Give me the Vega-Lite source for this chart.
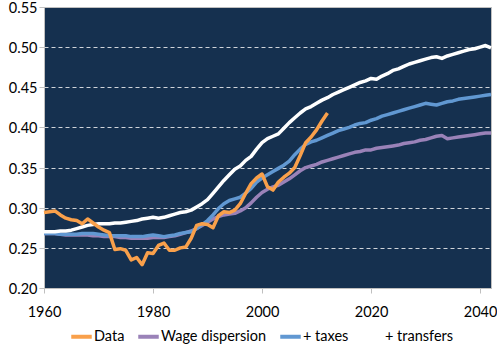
{
  "$schema": "https://vega.github.io/schema/vega-lite/v6.json",
  "width": 447,
  "height": 281,
  "autosize": {"type": "none"},
  "padding": {"left": 44, "top": 7, "right": 6, "bottom": 62},
  "background": "white",
  "config": {
    "font": "Lato",
    "view": {"fill": "#15304f", "stroke": "#bfbfbf", "strokeWidth": 1},
    "axis": {"labelFont": "Lato", "labelFontSize": 14.5, "labelColor": "#000000", "domainColor": "#bfbfbf", "tickColor": "#bfbfbf", "tickSize": 5, "title": null}
  },
  "datasets": {
    "obs": [
      {"year":1960,"series":"Data","value":0.294},{"year":1961,"series":"Data","value":0.295},{"year":1962,"series":"Data","value":0.296},{"year":1963,"series":"Data","value":0.291},{"year":1964,"series":"Data","value":0.287},{"year":1965,"series":"Data","value":0.285},{"year":1966,"series":"Data","value":0.284},{"year":1967,"series":"Data","value":0.280},{"year":1968,"series":"Data","value":0.286},{"year":1969,"series":"Data","value":0.281},{"year":1970,"series":"Data","value":0.276},{"year":1971,"series":"Data","value":0.272},{"year":1972,"series":"Data","value":0.269},{"year":1973,"series":"Data","value":0.248},{"year":1974,"series":"Data","value":0.249},{"year":1975,"series":"Data","value":0.247},{"year":1976,"series":"Data","value":0.235},{"year":1977,"series":"Data","value":0.238},{"year":1978,"series":"Data","value":0.229},{"year":1979,"series":"Data","value":0.244},{"year":1980,"series":"Data","value":0.243},{"year":1981,"series":"Data","value":0.253},{"year":1982,"series":"Data","value":0.256},{"year":1983,"series":"Data","value":0.247},{"year":1984,"series":"Data","value":0.247},{"year":1985,"series":"Data","value":0.250},{"year":1986,"series":"Data","value":0.251},{"year":1987,"series":"Data","value":0.262},{"year":1988,"series":"Data","value":0.278},{"year":1989,"series":"Data","value":0.280},{"year":1990,"series":"Data","value":0.279},{"year":1991,"series":"Data","value":0.275},{"year":1992,"series":"Data","value":0.290},{"year":1993,"series":"Data","value":0.295},{"year":1994,"series":"Data","value":0.294},{"year":1995,"series":"Data","value":0.297},{"year":1996,"series":"Data","value":0.305},{"year":1997,"series":"Data","value":0.318},{"year":1998,"series":"Data","value":0.330},{"year":1999,"series":"Data","value":0.337},{"year":2000,"series":"Data","value":0.342},{"year":2001,"series":"Data","value":0.326},{"year":2002,"series":"Data","value":0.322},{"year":2003,"series":"Data","value":0.332},{"year":2004,"series":"Data","value":0.338},{"year":2005,"series":"Data","value":0.343},{"year":2006,"series":"Data","value":0.350},{"year":2007,"series":"Data","value":0.365},{"year":2008,"series":"Data","value":0.381},{"year":2009,"series":"Data","value":0.388},{"year":2010,"series":"Data","value":0.397},{"year":2011,"series":"Data","value":0.408},{"year":2012,"series":"Data","value":0.418}
    ],
    "model": [
      {"year":1960,"series":"Wage dispersion","value":0.268},{"year":1961,"series":"Wage dispersion","value":0.268},{"year":1962,"series":"Wage dispersion","value":0.268},{"year":1963,"series":"Wage dispersion","value":0.267},{"year":1964,"series":"Wage dispersion","value":0.266},{"year":1965,"series":"Wage dispersion","value":0.266},{"year":1966,"series":"Wage dispersion","value":0.266},{"year":1967,"series":"Wage dispersion","value":0.266},{"year":1968,"series":"Wage dispersion","value":0.266},{"year":1969,"series":"Wage dispersion","value":0.265},{"year":1970,"series":"Wage dispersion","value":0.265},{"year":1971,"series":"Wage dispersion","value":0.264},{"year":1972,"series":"Wage dispersion","value":0.264},{"year":1973,"series":"Wage dispersion","value":0.264},{"year":1974,"series":"Wage dispersion","value":0.263},{"year":1975,"series":"Wage dispersion","value":0.263},{"year":1976,"series":"Wage dispersion","value":0.262},{"year":1977,"series":"Wage dispersion","value":0.262},{"year":1978,"series":"Wage dispersion","value":0.262},{"year":1979,"series":"Wage dispersion","value":0.262},{"year":1980,"series":"Wage dispersion","value":0.263},{"year":1981,"series":"Wage dispersion","value":0.263},{"year":1982,"series":"Wage dispersion","value":0.263},{"year":1983,"series":"Wage dispersion","value":0.264},{"year":1984,"series":"Wage dispersion","value":0.265},{"year":1985,"series":"Wage dispersion","value":0.267},{"year":1986,"series":"Wage dispersion","value":0.269},{"year":1987,"series":"Wage dispersion","value":0.271},{"year":1988,"series":"Wage dispersion","value":0.274},{"year":1989,"series":"Wage dispersion","value":0.278},{"year":1990,"series":"Wage dispersion","value":0.282},{"year":1991,"series":"Wage dispersion","value":0.286},{"year":1992,"series":"Wage dispersion","value":0.289},{"year":1993,"series":"Wage dispersion","value":0.291},{"year":1994,"series":"Wage dispersion","value":0.292},{"year":1995,"series":"Wage dispersion","value":0.293},{"year":1996,"series":"Wage dispersion","value":0.296},{"year":1997,"series":"Wage dispersion","value":0.300},{"year":1998,"series":"Wage dispersion","value":0.306},{"year":1999,"series":"Wage dispersion","value":0.313},{"year":2000,"series":"Wage dispersion","value":0.319},{"year":2001,"series":"Wage dispersion","value":0.323},{"year":2002,"series":"Wage dispersion","value":0.326},{"year":2003,"series":"Wage dispersion","value":0.328},{"year":2004,"series":"Wage dispersion","value":0.332},{"year":2005,"series":"Wage dispersion","value":0.336},{"year":2006,"series":"Wage dispersion","value":0.341},{"year":2007,"series":"Wage dispersion","value":0.346},{"year":2008,"series":"Wage dispersion","value":0.350},{"year":2009,"series":"Wage dispersion","value":0.352},{"year":2010,"series":"Wage dispersion","value":0.354},{"year":2011,"series":"Wage dispersion","value":0.357},{"year":2012,"series":"Wage dispersion","value":0.359},{"year":2013,"series":"Wage dispersion","value":0.361},{"year":2014,"series":"Wage dispersion","value":0.363},{"year":2015,"series":"Wage dispersion","value":0.365},{"year":2016,"series":"Wage dispersion","value":0.367},{"year":2017,"series":"Wage dispersion","value":0.369},{"year":2018,"series":"Wage dispersion","value":0.370},{"year":2019,"series":"Wage dispersion","value":0.372},{"year":2020,"series":"Wage dispersion","value":0.372},{"year":2021,"series":"Wage dispersion","value":0.374},{"year":2022,"series":"Wage dispersion","value":0.375},{"year":2023,"series":"Wage dispersion","value":0.376},{"year":2024,"series":"Wage dispersion","value":0.377},{"year":2025,"series":"Wage dispersion","value":0.378},{"year":2026,"series":"Wage dispersion","value":0.380},{"year":2027,"series":"Wage dispersion","value":0.381},{"year":2028,"series":"Wage dispersion","value":0.382},{"year":2029,"series":"Wage dispersion","value":0.384},{"year":2030,"series":"Wage dispersion","value":0.385},{"year":2031,"series":"Wage dispersion","value":0.387},{"year":2032,"series":"Wage dispersion","value":0.389},{"year":2033,"series":"Wage dispersion","value":0.390},{"year":2034,"series":"Wage dispersion","value":0.386},{"year":2035,"series":"Wage dispersion","value":0.387},{"year":2036,"series":"Wage dispersion","value":0.388},{"year":2037,"series":"Wage dispersion","value":0.389},{"year":2038,"series":"Wage dispersion","value":0.390},{"year":2039,"series":"Wage dispersion","value":0.391},{"year":2040,"series":"Wage dispersion","value":0.392},{"year":2041,"series":"Wage dispersion","value":0.393},{"year":2042,"series":"Wage dispersion","value":0.393},
      {"year":1960,"series":"+ taxes","value":0.268},{"year":1961,"series":"+ taxes","value":0.268},{"year":1962,"series":"+ taxes","value":0.268},{"year":1963,"series":"+ taxes","value":0.267},{"year":1964,"series":"+ taxes","value":0.267},{"year":1965,"series":"+ taxes","value":0.267},{"year":1966,"series":"+ taxes","value":0.267},{"year":1967,"series":"+ taxes","value":0.268},{"year":1968,"series":"+ taxes","value":0.268},{"year":1969,"series":"+ taxes","value":0.268},{"year":1970,"series":"+ taxes","value":0.267},{"year":1971,"series":"+ taxes","value":0.266},{"year":1972,"series":"+ taxes","value":0.265},{"year":1973,"series":"+ taxes","value":0.265},{"year":1974,"series":"+ taxes","value":0.265},{"year":1975,"series":"+ taxes","value":0.265},{"year":1976,"series":"+ taxes","value":0.264},{"year":1977,"series":"+ taxes","value":0.264},{"year":1978,"series":"+ taxes","value":0.264},{"year":1979,"series":"+ taxes","value":0.265},{"year":1980,"series":"+ taxes","value":0.266},{"year":1981,"series":"+ taxes","value":0.265},{"year":1982,"series":"+ taxes","value":0.264},{"year":1983,"series":"+ taxes","value":0.265},{"year":1984,"series":"+ taxes","value":0.266},{"year":1985,"series":"+ taxes","value":0.268},{"year":1986,"series":"+ taxes","value":0.269},{"year":1987,"series":"+ taxes","value":0.270},{"year":1988,"series":"+ taxes","value":0.274},{"year":1989,"series":"+ taxes","value":0.279},{"year":1990,"series":"+ taxes","value":0.284},{"year":1991,"series":"+ taxes","value":0.291},{"year":1992,"series":"+ taxes","value":0.299},{"year":1993,"series":"+ taxes","value":0.305},{"year":1994,"series":"+ taxes","value":0.309},{"year":1995,"series":"+ taxes","value":0.311},{"year":1996,"series":"+ taxes","value":0.313},{"year":1997,"series":"+ taxes","value":0.318},{"year":1998,"series":"+ taxes","value":0.324},{"year":1999,"series":"+ taxes","value":0.332},{"year":2000,"series":"+ taxes","value":0.337},{"year":2001,"series":"+ taxes","value":0.341},{"year":2002,"series":"+ taxes","value":0.345},{"year":2003,"series":"+ taxes","value":0.349},{"year":2004,"series":"+ taxes","value":0.353},{"year":2005,"series":"+ taxes","value":0.358},{"year":2006,"series":"+ taxes","value":0.366},{"year":2007,"series":"+ taxes","value":0.373},{"year":2008,"series":"+ taxes","value":0.379},{"year":2009,"series":"+ taxes","value":0.382},{"year":2010,"series":"+ taxes","value":0.384},{"year":2011,"series":"+ taxes","value":0.387},{"year":2012,"series":"+ taxes","value":0.390},{"year":2013,"series":"+ taxes","value":0.393},{"year":2014,"series":"+ taxes","value":0.396},{"year":2015,"series":"+ taxes","value":0.398},{"year":2016,"series":"+ taxes","value":0.400},{"year":2017,"series":"+ taxes","value":0.403},{"year":2018,"series":"+ taxes","value":0.405},{"year":2019,"series":"+ taxes","value":0.406},{"year":2020,"series":"+ taxes","value":0.409},{"year":2021,"series":"+ taxes","value":0.411},{"year":2022,"series":"+ taxes","value":0.414},{"year":2023,"series":"+ taxes","value":0.416},{"year":2024,"series":"+ taxes","value":0.418},{"year":2025,"series":"+ taxes","value":0.420},{"year":2026,"series":"+ taxes","value":0.422},{"year":2027,"series":"+ taxes","value":0.424},{"year":2028,"series":"+ taxes","value":0.426},{"year":2029,"series":"+ taxes","value":0.428},{"year":2030,"series":"+ taxes","value":0.430},{"year":2031,"series":"+ taxes","value":0.429},{"year":2032,"series":"+ taxes","value":0.428},{"year":2033,"series":"+ taxes","value":0.430},{"year":2034,"series":"+ taxes","value":0.432},{"year":2035,"series":"+ taxes","value":0.433},{"year":2036,"series":"+ taxes","value":0.435},{"year":2037,"series":"+ taxes","value":0.436},{"year":2038,"series":"+ taxes","value":0.437},{"year":2039,"series":"+ taxes","value":0.438},{"year":2040,"series":"+ taxes","value":0.439},{"year":2041,"series":"+ taxes","value":0.440},{"year":2042,"series":"+ taxes","value":0.441},
      {"year":1960,"series":"+ transfers","value":0.270},{"year":1961,"series":"+ transfers","value":0.270},{"year":1962,"series":"+ transfers","value":0.270},{"year":1963,"series":"+ transfers","value":0.271},{"year":1964,"series":"+ transfers","value":0.271},{"year":1965,"series":"+ transfers","value":0.272},{"year":1966,"series":"+ transfers","value":0.274},{"year":1967,"series":"+ transfers","value":0.276},{"year":1968,"series":"+ transfers","value":0.278},{"year":1969,"series":"+ transfers","value":0.279},{"year":1970,"series":"+ transfers","value":0.280},{"year":1971,"series":"+ transfers","value":0.280},{"year":1972,"series":"+ transfers","value":0.280},{"year":1973,"series":"+ transfers","value":0.281},{"year":1974,"series":"+ transfers","value":0.281},{"year":1975,"series":"+ transfers","value":0.282},{"year":1976,"series":"+ transfers","value":0.283},{"year":1977,"series":"+ transfers","value":0.284},{"year":1978,"series":"+ transfers","value":0.286},{"year":1979,"series":"+ transfers","value":0.287},{"year":1980,"series":"+ transfers","value":0.288},{"year":1981,"series":"+ transfers","value":0.287},{"year":1982,"series":"+ transfers","value":0.288},{"year":1983,"series":"+ transfers","value":0.290},{"year":1984,"series":"+ transfers","value":0.292},{"year":1985,"series":"+ transfers","value":0.294},{"year":1986,"series":"+ transfers","value":0.295},{"year":1987,"series":"+ transfers","value":0.297},{"year":1988,"series":"+ transfers","value":0.301},{"year":1989,"series":"+ transfers","value":0.305},{"year":1990,"series":"+ transfers","value":0.310},{"year":1991,"series":"+ transfers","value":0.318},{"year":1992,"series":"+ transfers","value":0.326},{"year":1993,"series":"+ transfers","value":0.334},{"year":1994,"series":"+ transfers","value":0.341},{"year":1995,"series":"+ transfers","value":0.348},{"year":1996,"series":"+ transfers","value":0.352},{"year":1997,"series":"+ transfers","value":0.359},{"year":1998,"series":"+ transfers","value":0.364},{"year":1999,"series":"+ transfers","value":0.373},{"year":2000,"series":"+ transfers","value":0.381},{"year":2001,"series":"+ transfers","value":0.386},{"year":2002,"series":"+ transfers","value":0.389},{"year":2003,"series":"+ transfers","value":0.392},{"year":2004,"series":"+ transfers","value":0.399},{"year":2005,"series":"+ transfers","value":0.406},{"year":2006,"series":"+ transfers","value":0.412},{"year":2007,"series":"+ transfers","value":0.418},{"year":2008,"series":"+ transfers","value":0.423},{"year":2009,"series":"+ transfers","value":0.426},{"year":2010,"series":"+ transfers","value":0.430},{"year":2011,"series":"+ transfers","value":0.434},{"year":2012,"series":"+ transfers","value":0.437},{"year":2013,"series":"+ transfers","value":0.441},{"year":2014,"series":"+ transfers","value":0.444},{"year":2015,"series":"+ transfers","value":0.447},{"year":2016,"series":"+ transfers","value":0.450},{"year":2017,"series":"+ transfers","value":0.453},{"year":2018,"series":"+ transfers","value":0.456},{"year":2019,"series":"+ transfers","value":0.458},{"year":2020,"series":"+ transfers","value":0.461},{"year":2021,"series":"+ transfers","value":0.460},{"year":2022,"series":"+ transfers","value":0.464},{"year":2023,"series":"+ transfers","value":0.467},{"year":2024,"series":"+ transfers","value":0.471},{"year":2025,"series":"+ transfers","value":0.473},{"year":2026,"series":"+ transfers","value":0.476},{"year":2027,"series":"+ transfers","value":0.479},{"year":2028,"series":"+ transfers","value":0.481},{"year":2029,"series":"+ transfers","value":0.483},{"year":2030,"series":"+ transfers","value":0.485},{"year":2031,"series":"+ transfers","value":0.487},{"year":2032,"series":"+ transfers","value":0.488},{"year":2033,"series":"+ transfers","value":0.486},{"year":2034,"series":"+ transfers","value":0.489},{"year":2035,"series":"+ transfers","value":0.491},{"year":2036,"series":"+ transfers","value":0.493},{"year":2037,"series":"+ transfers","value":0.495},{"year":2038,"series":"+ transfers","value":0.497},{"year":2039,"series":"+ transfers","value":0.498},{"year":2040,"series":"+ transfers","value":0.500},{"year":2041,"series":"+ transfers","value":0.502},{"year":2042,"series":"+ transfers","value":0.499}
    ]
  },
  "encoding": {
    "x": {"field": "year", "type": "quantitative",
      "scale": {"domain": [1960, 2042], "nice": false, "zero": false},
      "axis": {"values": [1960, 1980, 2000, 2020, 2040], "format": "d", "grid": false, "labelPadding": 12, "labelFlush": false}},
    "y": {"field": "value", "type": "quantitative",
      "scale": {"domain": [0.2, 0.55], "nice": false, "zero": false},
      "axis": {"values": [0.2, 0.25, 0.3, 0.35, 0.4, 0.45, 0.5, 0.55], "format": ".2f", "grid": true, "gridColor": "#d0d4da", "gridDash": [4, 3], "gridWidth": 1,
        "gridOpacity": {"condition": {"test": "datum.value < 0.21 || datum.value > 0.54", "value": 0}, "value": 1},
        "labelPadding": 2, "labelOffset": 1.5, "labelFlush": false}},
    "color": {"field": "series", "type": "nominal",
      "scale": {"domain": ["Data", "Wage dispersion", "+ taxes", "+ transfers"], "range": ["#f9a04b", "#9a82b8", "#6198d2", "#ffffff"]},
      "legend": {"title": null, "orient": "none", "legendX": 25, "legendY": 317, "direction": "horizontal", "symbolType": "stroke", "symbolStrokeWidth": 4, "symbolSize": 420, "labelFontSize": 14.5, "labelFont": "Lato", "labelColor": "#000000", "labelOffset": 0, "columnPadding": 5}}
  },
  "layer": [
    {"data": {"name": "model"}, "mark": {"type": "line", "strokeWidth": 3.5, "strokeJoin": "round"}},
    {"data": {"name": "obs"}, "mark": {"type": "line", "strokeWidth": 3.5, "strokeJoin": "round"}}
  ]
}
